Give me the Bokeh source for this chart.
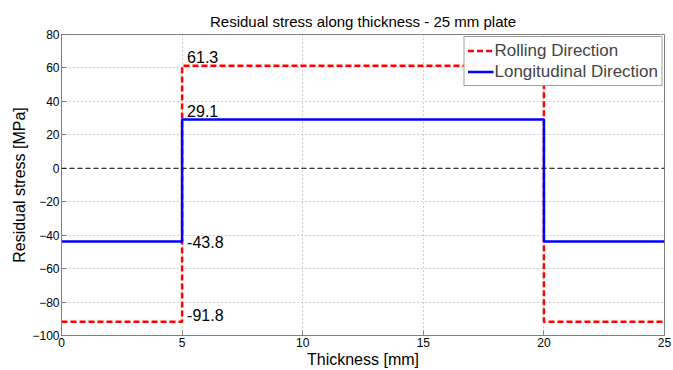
from bokeh.plotting import figure
from bokeh.models import Range1d, FixedTicker, Span, Legend, LegendItem, ColumnDataSource
from bokeh.core.properties import value
from bokeh.embed import file_html
from bokeh.resources import INLINE

# data
edges = [0, 5, 20, 25]
rolling = [-91.8, 61.3, -91.8, -91.8]
longitudinal = [-43.8, 29.1, -43.8, -43.8]
x_ticks = [0, 5, 10, 15, 20, 25]
y_ticks = [-100, -80, -60, -40, -20, 0, 20, 40, 60, 80]
ann_x = [5, 5, 5, 5]
ann_y = [61.3, 29.1, -43.8, -91.8]
ann_text = ["61.3", "29.1", "-43.8", "-91.8"]

FONT = "Liberation Sans"

p = figure(width=673, height=370, output_backend="svg", toolbar_location=None,
           x_range=Range1d(0, 25), y_range=Range1d(-100, 80),
           min_border_left=61, min_border_right=9, min_border_top=34, min_border_bottom=33)

p.title.text = "Residual stress along thickness - 25 mm plate"
p.title.text_font = FONT
p.title.text_font_size = "15px"
p.title.text_font_style = "normal"
p.title.align = "center"
p.title.text_color = "black"

for ax in (p.xaxis[0], p.yaxis[0]):
    ax.axis_line_color = "#808080"
    ax.major_tick_line_color = "#808080"
    ax.major_tick_in = 5
    ax.major_tick_out = 0
    ax.minor_tick_line_color = None
    ax.major_label_text_font = FONT
    ax.major_label_text_font_size = "12px"
    ax.major_label_text_color = "black"
    ax.axis_label_text_font = FONT
    ax.axis_label_text_font_size = "16px"
    ax.axis_label_text_font_style = "normal"
    ax.axis_label_text_color = "black"
    ax.major_label_standoff = 2
    ax.axis_label_standoff = 1

p.xaxis.ticker = FixedTicker(ticks=x_ticks)
p.yaxis.ticker = FixedTicker(ticks=y_ticks)
p.xaxis.axis_label = "Thickness [mm]"
p.yaxis.axis_label = "Residual stress [MPa]"

p.grid.grid_line_color = "#a0a0a0"
p.grid.grid_line_dash = "1 3"
p.grid.grid_line_width = 1
p.outline_line_color = "#808080"
p.outline_line_width = 1

p.add_layout(Span(location=0, dimension="width", line_color="black", line_dash="5 3", line_width=1))

r1 = p.step(edges, rolling, mode="after", line_color="#ff0000", line_dash="6 3", line_width=2.5)
r2 = p.step(edges, longitudinal, mode="after", line_color="#0000ff", line_width=2.5)

offsets = [-3, -3, 0, -7]
baselines = ["bottom", "bottom", "middle", "middle"]
for i in range(len(ann_text)):
    src = ColumnDataSource(dict(x=[ann_x[i]], y=[ann_y[i]], t=[ann_text[i]]))
    p.text("x", "y", text="t", source=src, x_offset=5, y_offset=offsets[i],
           text_baseline=baselines[i], text_align="left",
           text_font=value(FONT), text_font_size="16px", text_color="black")

legend = Legend(items=[LegendItem(label="Rolling Direction", renderers=[r1]),
                       LegendItem(label="Longitudinal Direction", renderers=[r2])],
                location="top_right")
legend.label_text_font = FONT
legend.label_text_font_size = "17px"
legend.border_line_color = "#404040"
legend.border_line_width = 1
legend.spacing = 0
legend.padding = 3
legend.margin = 2
legend.glyph_width = 26
legend.glyph_height = 21
legend.label_height = 21
legend.label_standoff = 1
p.add_layout(legend)

open("out.html", "w").write(file_html(p, INLINE))
